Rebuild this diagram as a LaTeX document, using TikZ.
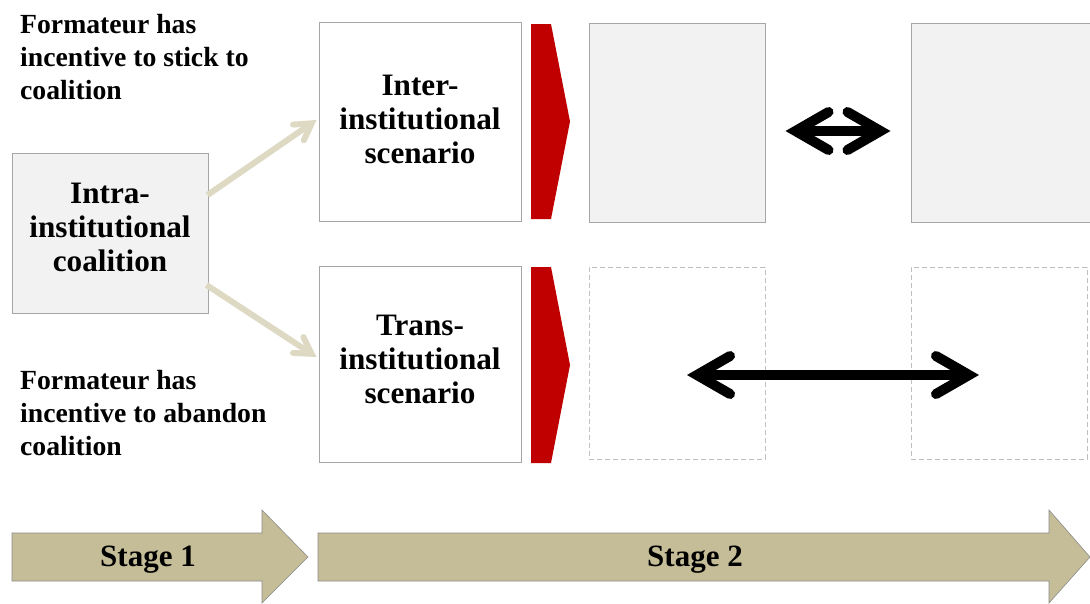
\documentclass[tikz,border=0pt]{standalone}
\usepackage{fontspec}
\setmainfont{Liberation Serif}
\usetikzlibrary{arrows.meta}
\definecolor{boxline}{HTML}{A6A6A6}
\definecolor{boxfill}{HTML}{F2F2F2}
\definecolor{dashline}{HTML}{BFBFBF}
\definecolor{redchev}{HTML}{C00000}
\definecolor{tanline}{HTML}{DDD9C3}
\definecolor{stagefill}{HTML}{C4BD97}
\definecolor{stageline}{HTML}{8C8C8C}
\tikzset{
  box/.style={draw=boxline, line width=1pt, inner sep=0pt},
  graybox/.style={box, fill=boxfill},
  boxtext/.style={inner sep=0pt, align=center, font=\fontsize{31.2}{34}\selectfont\bfseries},
  dashbox/.style={draw=dashline, line width=1pt, dashed, dash pattern=on 5pt off 3pt, inner sep=0pt},
  sidetext/.style={anchor=west, align=left, inner sep=0pt,
    font=\fontsize{27.7}{33}\selectfont\bfseries},
  tanarrow/.style={draw=tanline, line width=6pt,
    -{Straight Barb[length=16pt, width=19pt, line cap=round, line join=miter]}},
  blackarrow/.style={draw=black, line width=10pt,
    {Straight Barb[length=33pt, width=38pt, line cap=round, line join=miter]}-{Straight Barb[length=33pt, width=38pt, line cap=round, line join=miter]}},
  chev/.style={fill=redchev, draw=none},
  stagearrow/.style={fill=stagefill, draw=stageline, line width=0.6pt},
  stagetext/.style={font=\fontsize{31}{34}\selectfont\bfseries, inner sep=0pt}
}
\begin{document}
\begin{tikzpicture}[x=1pt, y=-1pt]
\useasboundingbox (0,0) rectangle (1090,603);
% boxes
\node[graybox, minimum width=196pt, minimum height=160pt] (intra) at (110,233) {};
\node[box, minimum width=202pt, minimum height=199pt] (inter) at (420,121.5) {};
\node[box, minimum width=202pt, minimum height=196pt] (trans) at (420,364) {};
\node[graybox, minimum width=176pt, minimum height=199pt] (g1) at (677,122.5) {};
\node[graybox, minimum width=190pt, minimum height=199pt] (g2) at (1006,122.5) {};
\node[dashbox, minimum width=176pt, minimum height=192pt] (d1) at (677,363) {};
\node[dashbox, minimum width=176pt, minimum height=192pt] (d2) at (999,363) {};
% box texts
\node[boxtext] (intratext) at (110,227) {Intra-\\institutional\\coalition};
\node[boxtext] (intertext) at (420,119) {Inter-\\institutional\\scenario};
\node[boxtext] (transtext) at (420,359.5) {Trans-\\institutional\\scenario};
% side texts
\node[sidetext] (stick) at (20,57) {Formateur has\\incentive to stick to\\coalition};
\node[sidetext] (abandon) at (20,413) {Formateur has\\incentive to abandon\\coalition};
% tan arrows
\draw[tanarrow] ([xshift=-1pt, yshift=38pt]intra.east) -- ([xshift=-2pt, yshift=1.5pt]inter.west);
\draw[tanarrow] ([xshift=-2pt, yshift=-52pt]intra.east) -- ([xshift=-2pt, yshift=7pt]trans.west);
% red chevrons
\draw[chev] (531,24) -- (551,24) -- (570,121.5) -- (551,219) -- (531,219) -- cycle;
\draw[chev] (531,267) -- (551,267) -- (570,365) -- (551,463) -- (531,463) -- cycle;
% black double arrows
\coordinate (a1) at ([xshift=20pt, yshift=-8.5pt]g1.east);
\coordinate (a2) at ([xshift=-20pt, yshift=-8.5pt]g2.west);
\draw[blackarrow] (a1) -- (a2);
\coordinate (b1) at ([xshift=10pt, yshift=-12pt]d1.center);
\coordinate (b2) at ([xshift=-20pt, yshift=-12pt]d2.center);
\draw[blackarrow] (b1) -- (b2);
% stage arrows
\draw[stagearrow] (12,533) -- (262,533) -- (262,510) -- (308,557) -- (262,603) -- (262,581) -- (12,581) -- cycle;
\draw[stagearrow] (318,533) -- (1049,533) -- (1049,510) -- (1090,557) -- (1049,603) -- (1049,581) -- (318,581) -- cycle;
\node[stagetext] (s1) at (148,560) {Stage 1};
\node[stagetext] (s2) at (695,560) {Stage 2};
\end{tikzpicture}
\end{document}
